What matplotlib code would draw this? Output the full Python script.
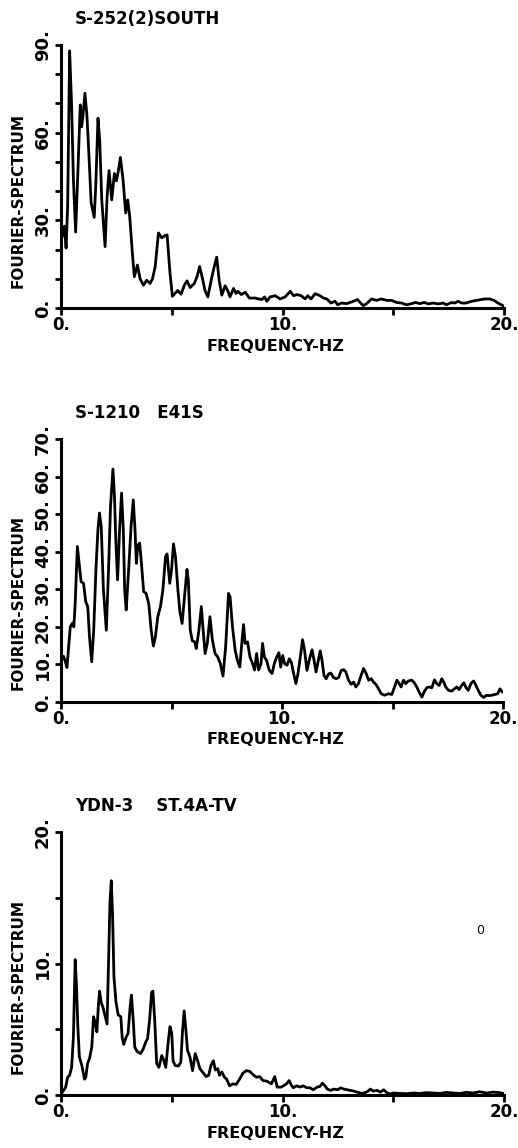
import numpy as np
import matplotlib
matplotlib.use("Agg")
import matplotlib.pyplot as plt

# spectrum 1 : S-252(2)SOUTH
freq1 = [0.0, 0.06, 0.15, 0.23, 0.3, 0.39, 0.48, 0.56, 0.66, 0.75, 0.87, 0.93, 0.99, 1.08, 1.17,
         1.27, 1.36, 1.5, 1.57, 1.67, 1.75, 1.84, 1.99, 2.08, 2.17, 2.29, 2.41, 2.5, 2.59, 2.68,
         2.8, 2.92, 3.01, 3.1, 3.22, 3.31, 3.45, 3.57, 3.72, 3.87, 4.02, 4.13, 4.25, 4.4, 4.55,
         4.7, 4.79, 4.92, 5.03, 5.15, 5.27, 5.42, 5.57, 5.69, 5.83, 6.02, 6.14, 6.26, 6.39, 6.5,
         6.63, 6.78, 6.92, 7.03, 7.14, 7.26, 7.41, 7.53, 7.63, 7.79, 7.9, 7.99, 8.14, 8.32, 8.5,
         8.77, 8.92, 9.07, 9.19, 9.29, 9.44, 9.67, 9.89, 10.12, 10.35, 10.5, 10.65, 10.84, 11.02,
         11.14, 11.29, 11.47, 11.7, 11.85, 12.0, 12.19, 12.37, 12.49, 12.67, 12.9, 13.05, 13.2,
         13.39, 13.5, 13.65, 13.8, 14.02, 14.25, 14.47, 14.7, 14.92, 15.15, 15.38, 15.6, 15.83,
         16.0, 16.2, 16.4, 16.58, 16.8, 17.03, 17.25, 17.4, 17.63, 17.78, 17.93, 18.08, 18.3,
         18.53, 18.75, 18.98, 19.13, 19.35, 19.55, 19.73, 19.88, 20.0]
amp1 = [25, 24.5, 28, 20.5, 35, 88, 69, 44, 26, 44, 69.5, 62, 65.5, 73.5, 66,
        51, 36, 31, 42, 65, 57, 37, 21, 38, 47, 37, 46, 43.5, 47, 51.5,
        44, 32.5, 37, 31.5, 19, 10.7, 14.7, 10, 7.8, 9.5, 8.4, 10, 14, 25.7, 24,
        24.8, 25, 12, 4, 5, 6, 4.7, 7.8, 9.3, 7, 8.4, 10.7, 14.2, 10, 6,
        3.8, 9.5, 14.2, 17.4, 9.5, 4.4, 7.6, 5.9, 3.8, 6.7, 5.0, 5.7, 4.6, 5.4, 3.4,
        3.4, 3.1, 2.9, 3.8, 2.3, 3.8, 4.2, 3.1, 3.8, 5.7, 4.2, 4.6, 4.2, 3.1,
        4.2, 3.1, 4.9, 4.2, 3.4, 3.1, 1.7, 2.3, 1.1, 1.7, 1.5, 1.9, 2.3,
        2.9, 1.9, 0.8, 1.5, 3.1, 2.6, 3.1, 2.6, 2.6, 1.9, 1.7, 1.1, 1.5,
        1.9, 1.5, 1.9, 1.4, 1.7, 1.4, 1.7, 1.1, 1.9, 1.7, 2.3, 1.7, 1.7,
        2.3, 2.6, 2.9, 3.1, 3.1, 2.6, 1.7, 1.1, 0.6]

# spectrum 2 : S-1210 E41S
freq2 = [0.0, 0.11, 0.18, 0.27, 0.36, 0.42, 0.52, 0.58, 0.64, 0.74, 0.82, 0.91, 1.02, 1.12, 1.21,
         1.29, 1.39, 1.48, 1.58, 1.67, 1.74, 1.82, 1.92, 2.05, 2.15, 2.24, 2.35, 2.42, 2.48, 2.56,
         2.65, 2.74, 2.82, 2.88, 2.95, 3.06, 3.17, 3.27, 3.35, 3.41, 3.48, 3.56, 3.64, 3.74, 3.85,
         3.97, 4.08, 4.18, 4.27, 4.38, 4.5, 4.61, 4.73, 4.8, 4.92, 5.0, 5.09, 5.18, 5.29, 5.38,
         5.48, 5.59, 5.7, 5.76, 5.85, 5.94, 6.05, 6.12, 6.24, 6.35, 6.42, 6.52, 6.62, 6.74, 6.85,
         6.97, 7.09, 7.21, 7.33, 7.45, 7.58, 7.65, 7.76, 7.88, 7.98, 8.09, 8.18, 8.26, 8.33, 8.44,
         8.55, 8.67, 8.76, 8.85, 8.94, 9.05, 9.12, 9.2, 9.3, 9.42, 9.55, 9.65, 9.76, 9.86, 9.94,
         10.03, 10.12, 10.23, 10.33, 10.42, 10.53, 10.63, 10.72, 10.83, 10.93, 11.02, 11.13, 11.23,
         11.36, 11.45, 11.54, 11.63, 11.73, 11.81, 11.9, 12.0, 12.11, 12.21, 12.33, 12.45, 12.56,
         12.68, 12.79, 12.89, 13.01, 13.13, 13.24, 13.34, 13.46, 13.58, 13.69, 13.8, 13.92, 14.04,
         14.14, 14.25, 14.37, 14.49, 14.64, 14.82, 14.97, 15.09, 15.2, 15.3, 15.39, 15.5, 15.6,
         15.72, 15.87, 15.99, 16.1, 16.2, 16.33, 16.43, 16.55, 16.66, 16.78, 16.9, 17.0, 17.11,
         17.23, 17.32, 17.41, 17.53, 17.68, 17.8, 17.91, 18.01, 18.13, 18.23, 18.33, 18.43, 18.55,
         18.67, 18.78, 18.88, 19.0, 19.13, 19.25, 19.37, 19.49, 19.64, 19.76, 19.86, 19.97]
amp2 = [11.1, 12.2, 11.1, 9.2, 15.6, 20, 21, 20, 26, 41.4, 37, 32, 31.6, 26.7, 25.4,
        17.3, 10.7, 19.1, 35.1, 45.8, 50.3, 46.7, 29.8, 19.1, 35.1, 52, 62, 54.7, 43.1, 32.5,
        45.8, 55.6, 45.8, 29.8, 24.5, 35.1, 46.7, 53.8, 45.8, 36.9, 41.8, 42.3, 36.9, 29.4, 28.9,
        26.2, 19.1, 14.9, 17.3, 22.7, 25.4, 29.8, 38.7, 39.4, 31.6, 35.1, 42.1, 38.7, 29.8, 24,
        20.9, 28, 35.3, 32.5, 19.1, 16.3, 16, 14.2, 19.1, 25.4, 20, 12.9, 15.6, 22.7, 16.5,
        12.9, 12, 10.2, 6.9, 14.7, 28.9, 28, 20, 13.8, 11.1, 9.3, 15.6, 20.6, 15.6, 16,
        12, 10.2, 8.5, 12.9, 8.5, 10.2, 15.6, 12, 11.1, 8.5, 7.6, 10.2, 12, 13.1, 9.3,
        12.4, 10.2, 9.8, 11.5, 10.6, 7.5, 4.9, 7.5, 12, 16.6, 13.8, 8.4, 11.1,
        13.9, 11.1, 8, 10.6, 13.6, 11.1, 7.1, 6.2, 7.5, 7.7, 6.5, 6.2, 6.5,
        8.4, 8.6, 8, 5.8, 4.7, 5.3, 4, 4.9, 7.1, 8.9, 7.7, 5.8, 6.2,
        5.3, 4.7, 3.5, 2.2, 1.8, 2.2, 2, 4, 5.8, 4.9, 4, 5.8, 4.9,
        5.6, 5.8, 5.1, 4, 2.7, 1.3, 2.7, 3.8, 4, 3.8, 5.9, 4.9, 4.4,
        6.2, 5.3, 4, 3.1, 2.9, 3.5, 4, 3.3, 4.4, 5.1, 3.8, 3.1, 4.9,
        5.6, 4.4, 3.1, 1.8, 1.2, 1.8, 1.7, 1.8, 2, 2.2, 3.5, 2.7]

# spectrum 3 : YDN-3 ST.4A-TV
freq3 = [0.0, 0.11, 0.21, 0.3, 0.39, 0.48, 0.56, 0.64, 0.7, 0.76, 0.83, 0.94, 1.06, 1.12, 1.2,
         1.29, 1.39, 1.47, 1.53, 1.62, 1.68, 1.74, 1.82, 1.89, 2.0, 2.08, 2.15, 2.21, 2.27, 2.33,
         2.39, 2.48, 2.58, 2.7, 2.76, 2.83, 2.94, 3.03, 3.12, 3.18, 3.26, 3.33, 3.44, 3.59, 3.7,
         3.82, 3.91, 4.0, 4.09, 4.15, 4.23, 4.32, 4.42, 4.55, 4.62, 4.73, 4.85, 4.92, 5.0, 5.06,
         5.15, 5.3, 5.41, 5.48, 5.56, 5.64, 5.71, 5.82, 5.94, 6.06, 6.17, 6.27, 6.39, 6.55, 6.67,
         6.77, 6.88, 6.97, 7.08, 7.15, 7.26, 7.38, 7.48, 7.61, 7.76, 7.91, 8.06, 8.21, 8.36, 8.52,
         8.67, 8.82, 8.97, 9.12, 9.3, 9.5, 9.65, 9.76, 9.95, 10.18, 10.3, 10.4, 10.49, 10.64, 10.79,
         10.94, 11.09, 11.24, 11.39, 11.57, 11.69, 11.8, 11.92, 12.02, 12.17, 12.32, 12.5, 12.62,
         12.77, 12.92, 13.07, 13.25, 13.4, 13.6, 13.75, 13.85, 13.97, 14.09, 14.27, 14.42, 14.57,
         14.69, 14.87, 15.0, 15.3, 15.6, 15.9, 16.2, 16.5, 16.8, 17.1, 17.4, 17.7, 18.0, 18.3,
         18.6, 18.9, 19.2, 19.5, 19.8, 20.0]
amp3 = [0.1, 0.33, 0.6, 1.35, 1.5, 2.1, 4.4, 10.3, 8.3, 5.2, 2.9, 2.25, 1.2, 1.35, 2.4,
        2.8, 3.65, 5.95, 5.6, 4.8, 6.6, 7.9, 7.0, 6.7, 5.95, 5.4, 10.3, 14.6, 16.3, 13.6,
        9.0, 7.1, 6.1, 5.95, 4.4, 3.85, 4.4, 4.7, 6.7, 7.6, 5.7, 3.65, 3.3, 3.15, 3.45,
        4.0, 4.3, 5.7, 7.8, 7.9, 5.7, 2.4, 2.1, 3.0, 2.75, 2.1, 4.2, 5.2, 4.7, 2.6,
        2.25, 2.2, 2.5, 4.7, 6.4, 4.9, 3.4, 2.9, 1.85, 3.15, 2.6, 2.0, 1.75, 1.4, 1.5,
        2.25, 2.6, 1.9, 2.0, 1.5, 1.75, 1.35, 1.2, 0.7, 0.85, 0.8, 1.2, 1.65, 1.85, 1.8,
        1.55, 1.35, 1.4, 1.1, 1.05, 0.85, 1.4, 0.6, 0.6, 0.85, 1.1, 0.75, 0.55, 0.7, 0.6,
        0.7, 0.55, 0.55, 0.4, 0.6, 0.65, 0.9, 0.7, 0.45, 0.35, 0.45, 0.4, 0.55,
        0.45, 0.4, 0.35, 0.28, 0.2, 0.12, 0.2, 0.28, 0.45, 0.3, 0.35, 0.22, 0.4,
        0.2, 0.08, 0.15, 0.12, 0.1, 0.15, 0.12, 0.18, 0.15, 0.12, 0.2, 0.15, 0.12, 0.2,
        0.15, 0.25, 0.15, 0.22, 0.18, 0.1]

titles = ["S-252(2)SOUTH", "S-1210   E41S", "YDN-3    ST.4A-TV"]
ymax = [90, 70, 20]
ytick_step = [10, 10, 5]
ylabel_vals = [[0, 30, 60, 90], [0, 10, 20, 30, 40, 50, 60, 70], [0, 10, 20]]
xticks = [0, 5, 10, 15, 20]
xtick_labels = ["0.", "", "10.", "", "20."]

W, H = 518, 1148
fig = plt.figure(figsize=(W / 100, H / 100), dpi=100)
bold = dict(family="DejaVu Sans", weight="bold")

# axes boxes in pixels: left, right, top, bottom
boxes = [(61, 504, 45, 308), (61, 503, 439, 702), (61, 504, 832, 1095)]
ylab_y = [200, 602, 987]

data = [(freq1, amp1), (freq2, amp2), (freq3, amp3)]
for i in range(3):
    l, r, t, b = boxes[i]
    ax = fig.add_axes([l / W, 1 - b / H, (r - l) / W, (b - t) / H])
    f, a = data[i]
    ax.plot(f, a, color="black", lw=2.0, solid_joinstyle="round")
    ax.set_xlim(0, 20)
    ax.set_ylim(0, ymax[i])
    for s in ["top", "right"]:
        ax.spines[s].set_visible(False)
    for s in ["left", "bottom"]:
        ax.spines[s].set_linewidth(2.2)
    ax.set_xticks(xticks)
    ax.set_xticklabels(xtick_labels, fontsize=12, **bold)
    yt = np.arange(0, ymax[i] + 1, ytick_step[i])
    ax.set_yticks(yt)
    ax.set_yticklabels([f"{v}." if v in ylabel_vals[i] else "" for v in yt],
                       fontsize=13, rotation=90, va="center", **bold)
    ax.tick_params(axis="x", direction="out", length=5, width=2, pad=1)
    ax.tick_params(axis="y", direction="out", length=4, width=2, pad=2.5)

    # title, axis labels
    fig.text(75 / W, 1 - (t - 26) / H, titles[i], ha="left", va="center", fontsize=12, **bold)
    fig.text(275 / W, 1 - (b + 38) / H, "FREQUENCY-HZ", ha="center", va="center",
             fontsize=11.5, **bold)
    fig.text(18 / W, 1 - ylab_y[i] / H, "FOURIER-SPECTRUM", ha="center", va="center",
             rotation=90, fontsize=11, **bold)

# stray mark in the scan
fig.text(480 / W, 1 - 930 / H, "0", ha="center", va="center", fontsize=9)

fig.savefig("out.png", dpi=100, facecolor="white")
